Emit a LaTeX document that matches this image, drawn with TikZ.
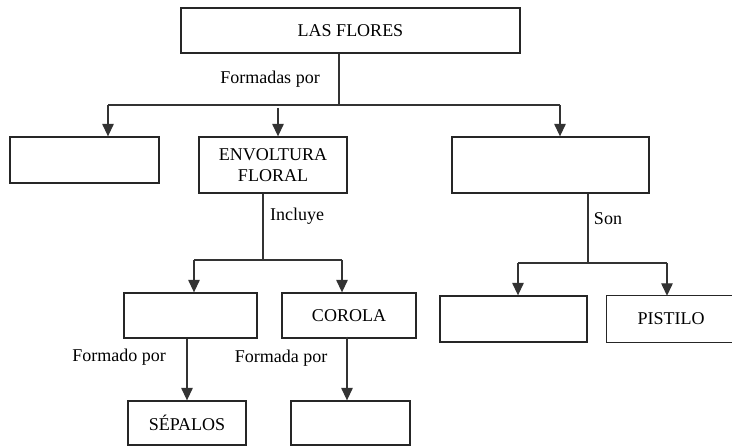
\documentclass[tikz,border=0pt]{standalone}
\usepackage{fontspec}
\setmainfont{Liberation Serif}
\usetikzlibrary{arrows.meta}
\begin{document}
\begin{tikzpicture}[x=1pt,y=-1pt,
  box/.style={draw=black!85,line width=1.3pt,minimum width=#1,inner sep=0pt,align=center,font=\fontsize{18}{21}\selectfont},
  lbl/.style={inner sep=0pt,font=\fontsize{18}{21}\selectfont},
  conn/.style={draw=black!80,line width=1.3pt},
  arr/.style={conn,-{Triangle[width=11.5pt,length=12.5pt]}}]
\useasboundingbox (0,0) rectangle (732,446);
% boxes
\node[box=339pt,minimum height=45pt] (flores) at (350.5,30.5) {LAS FLORES};
\node[box=149pt,minimum height=46pt] (left) at (84.5,160) {};
\node[box=148pt,minimum height=56pt] (env) at (273,165) {ENVOLTURA\\FLORAL};
\node[box=197pt,minimum height=56pt] (right) at (550.5,165) {};
\node[box=133pt,minimum height=45pt] (caliz) at (190.5,315.5) {};
\node[box=134pt,minimum height=45pt] (corola) at (349,315.5) {COROLA};
\node[box=147pt,minimum height=46pt] (blank2) at (513.5,319) {};
\node[lbl,minimum width=128pt,minimum height=46pt] (pistilo) at (671,319) {PISTILO};
\draw[black!85,line width=1.3pt] ([xshift=6pt]pistilo.north east) -- (pistilo.north west) -- (pistilo.south west) -- ([xshift=6pt]pistilo.south east);
\node[box=118pt,minimum height=44pt] (sepalos) at (187,423) {SÉPALOS};
\node[box=119pt,minimum height=44pt] (blank3) at (350.5,423) {};
% labels
\node[lbl] (l1) at (270,79) {Formadas por};
\node[lbl] (l2) at (297,216) {Incluye};
\node[lbl] (l3) at (608,219) {Son};
\node[lbl] (l4) at (119,357) {Formado por};
\node[lbl] (l5) at (281,358) {Formada por};
% top level connectors
\coordinate (j1) at (339,105);
\coordinate (hL) at (108,105);
\coordinate (hM) at (278,108);
\coordinate (hR) at (560,105);
\draw[conn] (flores.south -| j1) -- (j1);
\draw[conn] (hL) -- (hR);
\draw[arr] (hL) -- (left.north -| hL);
\draw[arr] (hM) -- (env.north -| hM);
\draw[arr] (hR) -- (right.north -| hR);
% envoltura
\coordinate (j2) at (263,260);
\coordinate (cL) at (194,260);
\coordinate (cR) at (342,260);
\draw[conn] (env.south -| j2) -- (j2);
\draw[conn] (cL) -- (cR);
\draw[arr] (cL) -- (caliz.north -| cL);
\draw[arr] (cR) -- (corola.north -| cR);
% right
\coordinate (j3) at (588,263);
\coordinate (rL) at (518,263);
\coordinate (rR) at (667,263);
\draw[conn] (right.south -| j3) -- (j3);
\draw[conn] (rL) -- (rR);
\draw[arr] (rL) -- (blank2.north -| rL);
\draw[arr] (rR) -- (pistilo.north -| rR);
% lower
\coordinate (s1) at (187,0);
\coordinate (s2) at (347,0);
\draw[arr] (caliz.south -| s1) -- (sepalos.north -| s1);
\draw[arr] ([yshift=2pt]corola.south -| s2) -- (blank3.north -| s2);
\end{tikzpicture}
\end{document}
